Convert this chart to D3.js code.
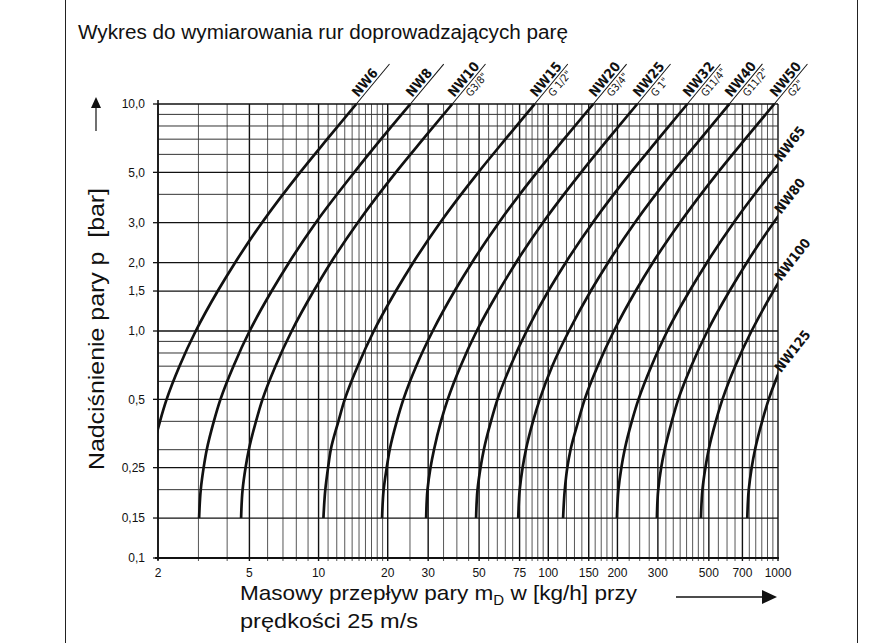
<!DOCTYPE html>
<html><head><meta charset="utf-8">
<script src="https://cdn.jsdelivr.net/npm/d3@7"></script>
<style>
body{margin:0;background:#fff}
svg{display:block}
text{font-family:"Liberation Sans",Arial,sans-serif;fill:#111}
.cond{font-family:"DejaVu Sans Condensed","Liberation Sans",sans-serif}
</style></head><body>
<svg id="chart" width="869" height="643"></svg>
<script>
// Gauge pressure levels (bar) at which each pipe curve is sampled
const pressures = [0.15, 0.2, 0.25, 0.3, 0.4, 0.5, 0.7, 1, 1.5, 2, 3, 5, 7, 10];

// Mass flow of steam (kg/h) at 25 m/s for each nominal diameter
const flowNW6   = [1.76, 1.79, 1.84, 1.90, 2.04, 2.18, 2.48, 2.92, 3.64, 4.33, 5.67, 8.31, 10.9, 14.6];
const flowNW8   = [3.02, 3.07, 3.16, 3.26, 3.50, 3.74, 4.26, 5.01, 6.25, 7.43, 9.72, 14.3, 18.7, 25.1];
const flowNW10  = [4.60, 4.67, 4.81, 4.97, 5.34, 5.70, 6.49, 7.64, 9.52, 11.3, 14.8, 21.7, 28.5, 38.2];
const flowNW15  = [10.5, 10.7, 11.0, 11.3, 12.2, 13.0, 14.8, 17.4, 21.7, 25.8, 33.8, 49.6, 65.1, 87.2];
const flowNW20  = [18.9, 19.2, 19.8, 20.4, 21.9, 23.4, 26.6, 31.4, 39.1, 46.5, 60.9, 89.2, 117, 157];
const flowNW25  = [29.4, 29.8, 30.7, 31.8, 34.1, 36.5, 41.5, 48.8, 60.9, 72.3, 94.7, 139, 182, 244];
const flowNW32  = [48.5, 49.2, 50.7, 52.4, 56.3, 60.1, 68.4, 80.5, 100, 119, 156, 229, 301, 403];
const flowNW40  = [74, 75.1, 77.3, 79.9, 85.8, 91.8, 104, 123, 153, 182, 238, 349, 459, 614];
const flowNW50  = [116, 118, 121, 125, 135, 144, 164, 193, 240, 285, 374, 548, 719, 963];
const flowNW65  = [199, 202, 208, 215, 231, 247, 281, 330, 412, 490, 641, 939, 1234, 1652];
const flowNW80  = [297, 301, 310, 321, 345, 368, 419, 493, 615, 731, 956, 1402, 1841, 2465];
const flowNW100 = [462, 469, 483, 499, 536, 573, 651, 767, 956, 1137, 1488, 2181, 2864, 3835];
const flowNW125 = [735, 746, 768, 794, 853, 911, 1036, 1220, 1521, 1808, 2367, 3469, 4557, 6100];

const pipeNames   = ["NW6","NW8","NW10","NW15","NW20","NW25","NW32","NW40","NW50","NW65","NW80","NW100","NW125"];
const threadNames = ["", "", "G3/8\"", "G 1/2\"", "G3/4\"", "G 1\"", "G11/4\"", "G11/2\"", "G2\"", "", "", "", ""];
const pipeFlows   = [flowNW6, flowNW8, flowNW10, flowNW15, flowNW20, flowNW25, flowNW32, flowNW40, flowNW50, flowNW65, flowNW80, flowNW100, flowNW125];

// Axis ticks and labels
const xTickValues = [2, 5, 10, 20, 30, 50, 75, 100, 150, 200, 300, 500, 700, 1000];
const xTickLabels = ["2","5","10","20","30","50","75","100","150","200","300","500","700","1000"];
const yTickValues = [0.1, 0.15, 0.25, 0.5, 1, 1.5, 2, 3, 5, 10];
const yTickLabels = ["0,1","0,15","0,25","0,5","1,0","1,5","2,0","3,0","5,0","10,0"];

// Grid line positions
const xGridValues = [].concat(
  d3.range(2, 20, 1), d3.range(20, 100, 5), d3.range(100, 200, 10),
  d3.range(200, 500, 25), d3.range(500, 1001, 50));
const yGridValues = [0.1, 0.15, 0.2, 0.25, 0.3, 0.4, 0.5, 0.6, 0.7, 0.8, 0.9, 1, 1.5, 2, 3, 4, 5, 6, 7, 8, 9, 10];

const svg = d3.select("#chart");
const x = d3.scaleLog().domain([2, 1000]).range([158, 778]);
const y = d3.scaleLog().domain([0.1, 10]).range([558, 104]);

// page frame
svg.append("rect").attr("x", 0).attr("y", 0).attr("width", 869).attr("height", 643).attr("fill", "#fff");
svg.append("line").attr("x1", 65.5).attr("x2", 65.5).attr("y1", 0).attr("y2", 643).attr("stroke", "#222").attr("stroke-width", 1);
svg.append("line").attr("x1", 857.5).attr("x2", 857.5).attr("y1", 0).attr("y2", 643).attr("stroke", "#222").attr("stroke-width", 1);

// title
svg.append("text").attr("x", 78).attr("y", 39).attr("font-size", 20)
  .attr("textLength", 490).attr("lengthAdjust", "spacingAndGlyphs")
  .text("Wykres do wymiarowania rur doprowadzających parę");

// grid
const xMajor = new Set(xTickValues);
const yMajor = new Set(yTickValues);
const grid = svg.append("g");
grid.selectAll("line.v").data(xGridValues).join("line")
  .attr("x1", d => x(d)).attr("x2", d => x(d))
  .attr("y1", y(10)).attr("y2", y(0.1) + 3)
  .attr("stroke", d => xMajor.has(d) ? "#111" : "#444")
  .attr("stroke-width", d => xMajor.has(d) ? 1.4 : 0.9);
grid.selectAll("line.h").data(yGridValues).join("line")
  .attr("x1", x(2)).attr("x2", x(1000))
  .attr("y1", d => y(d)).attr("y2", d => y(d))
  .attr("stroke", d => yMajor.has(d) ? "#111" : "#333")
  .attr("stroke-width", d => yMajor.has(d) ? 1.3 : 1.0);

// axes lines
svg.append("line").attr("x1", x(2)).attr("x2", x(2)).attr("y1", y(10) - 4).attr("y2", y(0.1) + 2)
  .attr("stroke", "#111").attr("stroke-width", 1.6);
svg.append("line").attr("x1", x(2) - 3).attr("x2", x(1000) + 1).attr("y1", y(0.1)).attr("y2", y(0.1))
  .attr("stroke", "#111").attr("stroke-width", 1.8);

// y ticks + labels
const yAxis = svg.append("g");
yAxis.selectAll("line").data(yTickValues).join("line")
  .attr("x1", x(2) - 5).attr("x2", x(2)).attr("y1", d => y(d)).attr("y2", d => y(d))
  .attr("stroke", "#111").attr("stroke-width", 1.3);
yAxis.selectAll("text").data(yTickValues).join("text")
  .attr("x", 145).attr("y", d => y(d)).attr("dy", "0.35em")
  .attr("text-anchor", "end").attr("font-size", 12).attr("fill", "#333")
  .text((d, i) => yTickLabels[i]);

// x labels
svg.append("g").selectAll("text").data(xTickValues).join("text")
  .attr("x", d => x(d)).attr("y", 577)
  .attr("text-anchor", "middle").attr("font-size", 12).attr("fill", "#333")
  .text((d, i) => xTickLabels[i]);

// clip region for curves
svg.append("clipPath").attr("id", "plotClip").append("rect")
  .attr("x", x(2)).attr("y", y(10) - 1).attr("width", x(1000) - x(2)).attr("height", y(0.1) - y(10) + 2);

const series = pipeNames.map((name, i) => ({
  name, thread: threadNames[i],
  points: pressures.map((p, j) => ({ p, m: pipeFlows[i][j] }))
}));

const line = d3.line().x(d => x(d.m)).y(d => y(d.p)).curve(d3.curveMonotoneY);

svg.append("g").attr("clip-path", "url(#plotClip)")
  .selectAll("path").data(series).join("path")
  .attr("d", d => line(d.points))
  .attr("fill", "none").attr("stroke", "#111").attr("stroke-width", 2.7)
  .attr("stroke-linejoin", "round");

// curve labels
const labels = svg.append("g");
series.forEach(s => {
  const pts = s.points;
  const last = pts[pts.length - 1];
  if (last.m <= 1000) {
    // label at the top edge, continuing the curve direction
    const prev = pts[pts.length - 2];
    const ax = x(last.m), ay = y(last.p);
    const ang = Math.atan2(ay - y(prev.p), ax - x(prev.m)) * 180 / Math.PI;
    const g = labels.append("g").attr("transform", `translate(${ax},${ay}) rotate(${ang})`);
    g.append("line").attr("x1", 0).attr("x2", 52).attr("y1", 0).attr("y2", 0)
      .attr("stroke", "#111").attr("stroke-width", 1);
    g.append("text").attr("class", "cond").attr("x", 6).attr("y", -2.5)
      .attr("font-size", 13.5).attr("font-weight", "bold")
      .text(s.name);
    if (s.thread) {
      g.append("text").attr("class", "cond").attr("x", 17).attr("y", 10).attr("font-size", 10.5)
        .text(s.thread);
    }
  } else {
    // label at the right edge where the curve leaves the grid
    let k = pts.findIndex(d => d.m > 1000);
    const a = pts[k - 1], b = pts[k];
    const t = Math.log(1000 / a.m) / Math.log(b.m / a.m);
    const pHit = Math.exp(Math.log(a.p) + t * (Math.log(b.p) - Math.log(a.p)));
    labels.append("text").attr("class", "cond")
      .attr("transform", `translate(${x(1000) + 3},${y(pHit) - 2}) rotate(-52)`)
      .attr("font-size", 13.5).attr("font-weight", "bold")
      .text(s.name);
  }
});

// y-axis title and arrow
svg.append("text")
  .attr("transform", "translate(104,329) rotate(-90)")
  .attr("text-anchor", "middle").attr("font-size", 22)
  .attr("textLength", 282).attr("lengthAdjust", "spacingAndGlyphs")
  .style("white-space", "pre")
  .text("Nadciśnienie pary p  [bar]");
svg.append("line").attr("x1", 96).attr("x2", 96).attr("y1", 131).attr("y2", 106)
  .attr("stroke", "#111").attr("stroke-width", 1.2);
svg.append("path").attr("d", "M96,97 L91,108 L101,108 Z").attr("fill", "#111");

// x-axis title and arrow
const xt = svg.append("text").attr("x", 240).attr("y", 600).attr("font-size", 21)
  .attr("textLength", 397).attr("lengthAdjust", "spacingAndGlyphs");
xt.append("tspan").text("Masowy przepływ pary m");
xt.append("tspan").attr("font-size", 14).attr("dy", 5).text("D");
xt.append("tspan").attr("dy", -5).text(" w [kg/h] przy");
svg.append("text").attr("x", 240).attr("y", 628).attr("font-size", 21)
  .attr("textLength", 178).attr("lengthAdjust", "spacingAndGlyphs")
  .text("prędkości 25 m/s");
svg.append("line").attr("x1", 676).attr("x2", 764).attr("y1", 597).attr("y2", 597)
  .attr("stroke", "#111").attr("stroke-width", 1.3);
svg.append("path").attr("d", "M777,597 L762,590 L762,604 Z").attr("fill", "#111");
</script>
</body></html>
